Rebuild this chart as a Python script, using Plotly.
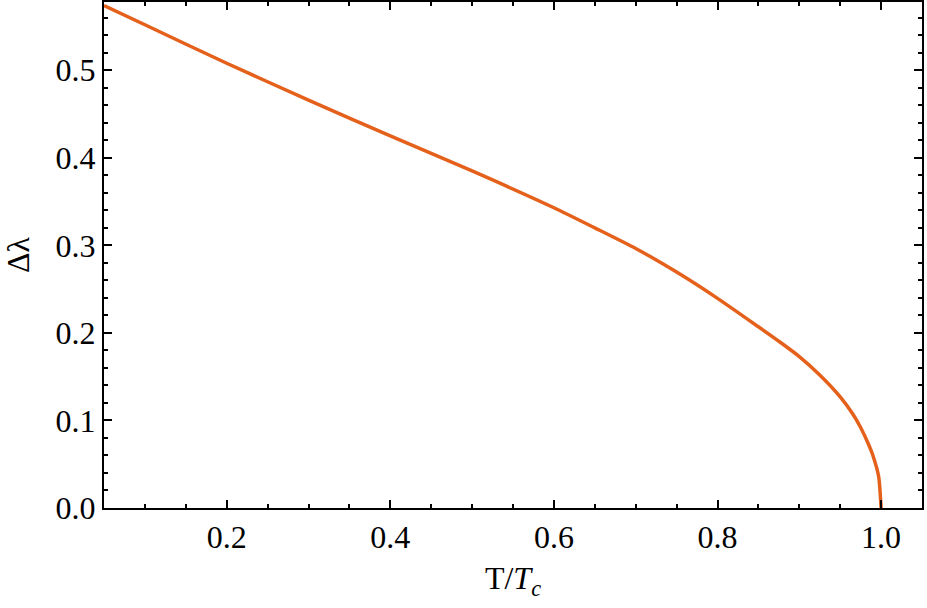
import plotly.graph_objects as go

# Values
t_ratio = [0.05, 0.10, 0.20, 0.30, 0.40, 0.50, 0.60, 0.65, 0.70, 0.75, 0.80,
           0.85, 0.875, 0.90, 0.925, 0.95, 0.965, 0.975, 0.985, 0.99, 0.997, 1.0]
delta_lambda = [0.574, 0.552, 0.508, 0.466, 0.425, 0.385, 0.343, 0.320, 0.2965,
                0.2695, 0.2395, 0.207, 0.1905, 0.173, 0.152, 0.127, 0.108, 0.092,
                0.072, 0.060, 0.036, 0.0]

x_tick_vals = [0.2, 0.4, 0.6, 0.8, 1.0]
x_tick_text = ["0.2", "0.4", "0.6", "0.8", "1.0"]
y_tick_vals = [0.0, 0.1, 0.2, 0.3, 0.4, 0.5]
y_tick_text = ["0.0", "0.1", "0.2", "0.3", "0.4", "0.5"]

SERIF = "Liberation Serif"

fig = go.Figure()
fig.add_trace(
    go.Scatter(
        x=t_ratio,
        y=delta_lambda,
        mode="lines",
        line={"color": "#e5611b", "width": 3.5, "shape": "spline", "smoothing": 0.6},
        showlegend=False,
    )
)

axis_common = dict(
    showline=True,
    linecolor="black",
    linewidth=2,
    mirror="allticks",
    ticks="inside",
    ticklen=8,
    tickwidth=2,
    tickcolor="black",
    showgrid=False,
    zeroline=False,
    automargin=False,
    tickfont={"family": SERIF, "size": 32, "color": "black"},
)

fig.update_xaxes(
    **axis_common,
    range=[0.05, 1.05],
    tickvals=x_tick_vals,
    ticktext=x_tick_text,
    minor={"dtick": 0.05, "tick0": 0, "ticks": "inside", "ticklen": 4,
           "tickwidth": 2, "tickcolor": "black", "showgrid": False},
    title={"text": "T/<i>T</i><sub><i>c</i></sub>",
           "font": {"family": SERIF, "size": 32, "color": "black"},
           "standoff": 12},
)
fig.update_yaxes(
    **axis_common,
    range=[0, 0.578],
    tickvals=y_tick_vals,
    ticktext=y_tick_text,
    minor={"dtick": 0.02, "tick0": 0, "ticks": "inside", "ticklen": 4,
           "tickwidth": 2, "tickcolor": "black", "showgrid": False},
    title={"text": "Δλ",
           "font": {"family": SERIF, "size": 32, "color": "black"},
           "standoff": 16},
)

fig.update_layout(
    width=927,
    height=608,
    plot_bgcolor="white",
    paper_bgcolor="white",
    font={"family": SERIF, "color": "black"},
    margin={"l": 104, "r": 5, "t": 2, "b": 100},
)

# drop the page's default body margin so the figure sits at the window origin
fig.write_html(
    "out.html",
    config={"displayModeBar": False},
    post_script="document.body.style.margin='0';",
)
